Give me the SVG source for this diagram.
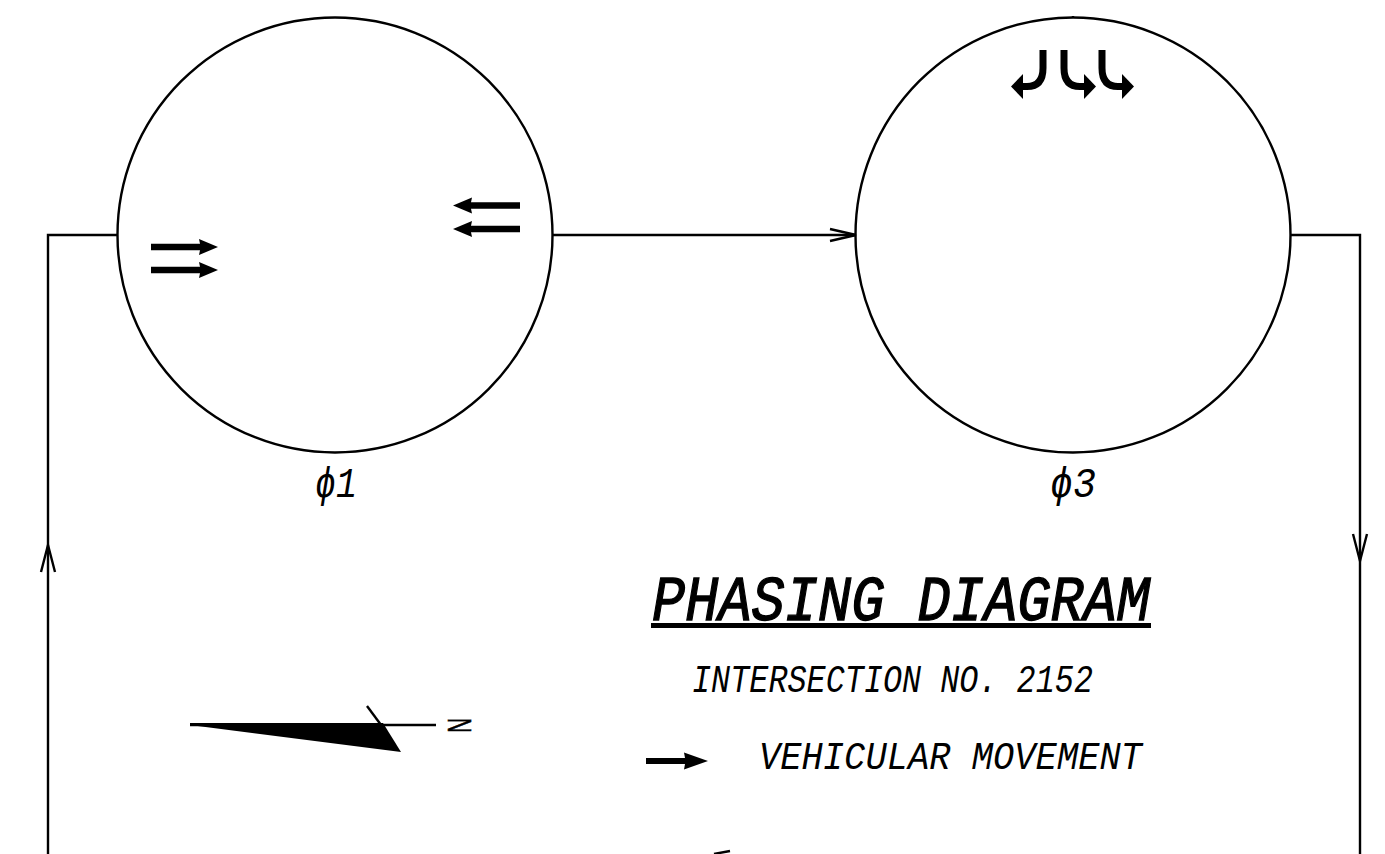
<svg xmlns="http://www.w3.org/2000/svg" width="1385" height="854" viewBox="0 0 1385 854">
<style>
.ln{fill:none;stroke:#000;stroke-width:2.4}
.hv{fill:none;stroke:#000;stroke-width:7}
.fl{fill:#000;stroke:none}
.t{font-family:"Liberation Mono","DejaVu Sans Mono",monospace;font-style:italic;fill:#000}
.h{stroke:#000;stroke-width:1.300}
</style>
<defs>
<path id="ar" d="M0 -3.200H49L48 -8L67 0L48 8L49 3.200H0Z"/>
</defs>
<rect width="1385" height="854" fill="#fff"/>
<g id="connectors">
<path class="ln" d="M48 854V235H118"/>
<path class="ln" d="M41 572L48 545L55 572"/>
<path class="ln" d="M553 235H856"/>
<path class="ln" d="M830 229L856 235L830 241"/>
<path class="ln" d="M1290 235H1360V854"/>
<path class="ln" d="M1353 534L1360 561L1367 534"/>
</g>
<g id="phase1">
<circle class="ln" cx="335" cy="235" r="217.5"/>
<use href="#ar" class="fl" transform="translate(151 247)"/>
<use href="#ar" class="fl" transform="translate(151 270)"/>
<use href="#ar" class="fl" transform="translate(520 205.500) scale(-1 1)"/>
<use href="#ar" class="fl" transform="translate(520 229) scale(-1 1)"/>
<text class="t" x="315" y="497" font-size="42" textLength="42" lengthAdjust="spacingAndGlyphs">ϕ1</text>
</g>
<g id="phase3">
<circle class="ln" cx="1073" cy="235" r="217.5"/>
<path class="ln" d="M1073 16V18"/>
<path class="hv" d="M1043 50V68Q1043 86.500 1027 86.500H1022"/>
<path class="fl" d="M1011 86.500L1023 74V99Z"/>
<path class="hv" d="M1064 50V68Q1064 86.500 1080 86.500H1085"/>
<path class="fl" d="M1096 86.500L1084 74V99Z"/>
<path class="hv" d="M1102 50V68Q1102 86.500 1118 86.500H1123"/>
<path class="fl" d="M1134 86.500L1122 74V99Z"/>
<text class="t" x="1050" y="497" font-size="42" textLength="46" lengthAdjust="spacingAndGlyphs">ϕ3</text>
</g>
<g id="north-arrow">
<path class="ln" d="M190 725H436"/>
<path class="ln" d="M367 706L384 729"/>
<path class="fl" d="M190 725L190 723H383L401 752Z"/>
<text transform="translate(448 718) rotate(90) scale(0.62 1)" font-size="33" style="font-family:'Liberation Sans',sans-serif" fill="#000" stroke="#000" stroke-width="0.6">N</text>
</g>
<g id="title">
<text class="t h" x="652" y="620" font-size="63" textLength="498" lengthAdjust="spacingAndGlyphs">PHASING DIAGRAM</text>
<rect class="fl" x="651" y="623" width="500" height="5"/>
<text class="t" x="692" y="692" font-size="39" textLength="401" lengthAdjust="spacingAndGlyphs">INTERSECTION NO. 2152</text>
</g>
<g id="legend">
<path class="fl" d="M646 758H685L684 752.500L708 761L684 769.500L685 764H646Z"/>
<text class="t" x="759" y="769" font-size="39" textLength="383" lengthAdjust="spacingAndGlyphs">VEHICULAR MOVEMENT</text>
<path class="ln" d="M714 854L730 851"/>
</g>
</svg>
